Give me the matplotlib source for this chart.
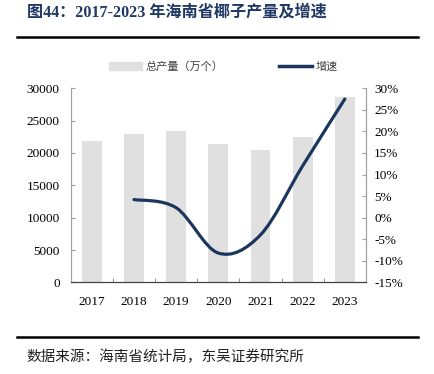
import numpy as np
import matplotlib
matplotlib.use('Agg')
from matplotlib import pyplot as plt
from matplotlib.path import Path
from matplotlib.patches import PathPatch, Patch
from matplotlib.lines import Line2D

plt.rcParams['font.family'] = ['Liberation Serif', 'Noto Sans CJK SC', 'DejaVu Sans']

years = ['2017', '2018', '2019', '2020', '2021', '2022', '2023']
output = [21900, 22900, 23400, 21400, 20500, 22500, 28600]   # 万个
growth = [4.2, 2.3, -8.2, -4.0, 12.0, 27.5]                   # %, 2018-2023

bar_color = '#e0e0e0'
line_color = '#1b365d'
title_color = '#1f3864'

def smooth_path(xs, ys):
    # excel-like smoothed line: cubic bezier through points
    pts = np.column_stack([xs, ys]).astype(float)
    n = len(pts)
    verts = [pts[0]]
    codes = [Path.MOVETO]
    for i in range(n - 1):
        p0 = pts[i - 1] if i > 0 else pts[i]
        p1 = pts[i]
        p2 = pts[i + 1]
        p3 = pts[i + 2] if i + 2 < n else pts[i + 1]
        c1 = p1 + (p2 - p0) / 6
        c2 = p2 - (p3 - p1) / 6
        verts += [c1, c2, p2]
        codes += [Path.CURVE4] * 3
    return Path(verts, codes)

fig = plt.figure(figsize=(4.34, 3.74), dpi=100)
ax = fig.add_axes([0.163, 0.245, 0.68, 0.519])
x = np.arange(len(years))
ax.bar(x, output, width=0.47, color=bar_color, zorder=1)
ax.set_xlim(-0.5, len(years) - 0.5)
ax.set_ylim(0, 30000)
ax.set_yticks(range(0, 30001, 5000))
ax.set_xticks(x)
ax.set_xticklabels(years)
ax.set_xticks(np.arange(-0.5, len(years), 1), minor=True)
ax.tick_params(axis='x', which='major', length=0, labelsize=9.5, pad=10)
ax.tick_params(axis='x', which='minor', direction='in', length=3, color='#808080')
ax.tick_params(axis='y', direction='in', length=3, color='#a0a0a0', labelsize=9.5, pad=8)

ax2 = ax.twinx()
ax2.set_ylim(-15, 30)
ax2.set_yticks(range(-15, 31, 5))
ax2.set_yticklabels([f'{v}%' for v in range(-15, 31, 5)])
ax2.tick_params(axis='y', direction='in', length=3, color='#a0a0a0', labelsize=9.5, pad=6)
ax2.add_patch(PathPatch(smooth_path(x[1:], growth), fill=False, edgecolor=line_color,
                        lw=2.3, capstyle='round', zorder=3))

for a in (ax, ax2):
    a.spines['top'].set_visible(False)
    a.spines['left'].set_color('#a0a0a0')
    a.spines['right'].set_color('#a0a0a0')
    a.spines['bottom'].set_color('#404040')
    a.patch.set_visible(False)

handles = [Patch(color=bar_color), Line2D([], [], color=line_color, lw=2.5)]
fig.legend(handles, ['总产量（万个）', '增速'], loc='center', bbox_to_anchor=(0.515, 0.823),
           ncol=2, frameon=False, fontsize=8, handlelength=3.0, handleheight=0.7,
           columnspacing=5, handletextpad=0.3, labelcolor='#404040')

fig.text(0.062, 0.967, '图44：2017-2023 年海南省椰子产量及增速', fontsize=11.6, fontweight='bold',
         color=title_color, va='center')
fig.add_artist(Line2D([0.04, 0.963], [0.901, 0.901], color='black', lw=1.8))
fig.add_artist(Line2D([0.04, 0.963], [0.099, 0.099], color='black', lw=1.8))
fig.text(0.062, 0.045, '数据来源：海南省统计局，东吴证券研究所', fontsize=10.5, color='#222222', va='center')

fig.savefig('out.png', dpi=100)
